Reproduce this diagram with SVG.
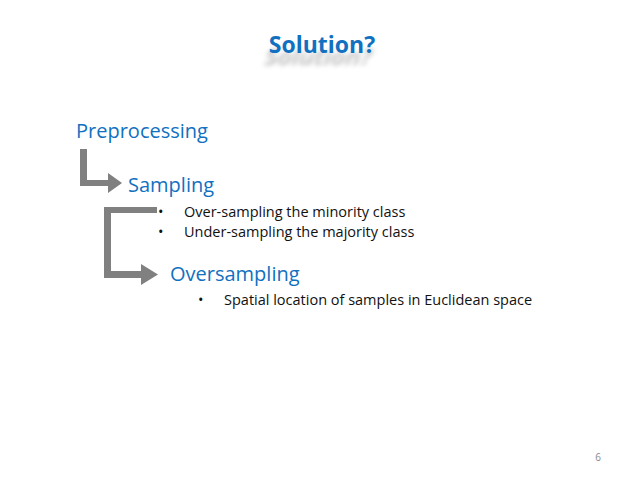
<svg xmlns="http://www.w3.org/2000/svg" width="638" height="478" viewBox="0 0 638 478">
<style>
text{font-family:"Open Sans","Liberation Sans",sans-serif}
.b{fill:#1170c0}
.k{fill:#111;font-size:14.5px}
.a{fill:#808080}
</style>
<defs><filter id="sh" x="-20%" y="-50%" width="140%" height="200%"><feGaussianBlur stdDeviation="2.5"/></filter></defs>
<rect width="638" height="478" fill="#fff"/>
<g id="title">
<text x="318" y="65" text-anchor="middle" font-size="23" font-weight="bold" fill="#999" opacity="0.6" filter="url(#sh)" transform="matrix(1,0,-0.3,1,18,0)">Solution?</text>
<text x="322" y="53" text-anchor="middle" font-size="23" font-weight="bold" class="b">Solution?</text>
</g>
<g id="preprocessing"><text x="76" y="138" font-size="20" class="b">Preprocessing</text></g>
<g id="sampling"><text x="128" y="192" font-size="20" class="b">Sampling</text>
<text x="158" y="217" class="k">•</text><text x="184" y="217" class="k">Over-sampling the minority class</text>
<text x="158" y="237" class="k">•</text><text x="184" y="237" class="k">Under-sampling the majority class</text></g>
<g id="oversampling"><text x="170" y="281" font-size="20" class="b">Oversampling</text>
<text x="198" y="305" class="k">•</text><text x="224" y="305" class="k">Spatial location of samples in Euclidean space</text></g>
<g id="connectors">
<path class="a" d="M80 149H87V180H108V173L122 183L108 193V186H80Z"/>
<path class="a" d="M157 207V213H111V271H141V264L158 274.5L141 285V278H104V207Z"/>
</g>
<text x="598" y="461" text-anchor="middle" font-size="10" fill="#888">6</text>
</svg>
